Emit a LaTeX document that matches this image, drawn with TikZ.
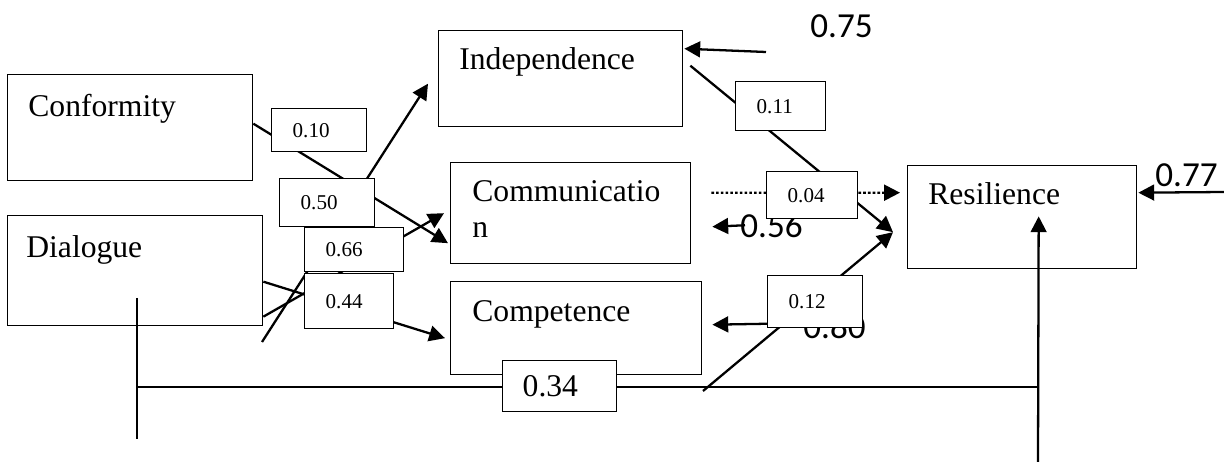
\documentclass[tikz,border=0pt]{standalone}
\usepackage{fontspec}
\setmainfont{Liberation Serif}
\newfontfamily\calibri{Carlito}
\usetikzlibrary{arrows.meta}
\usetikzlibrary{calc}
\usetikzlibrary{positioning}

\begin{document}
\begin{tikzpicture}
			[
				x = 0.02cm, y = -0.02cm,
				box/.style = {rectangle, draw = black, line width = 0.8pt, fill = white, anchor = north west, inner sep = 0pt},
				lbl/.style = {anchor = base west, inner sep = 0pt, font = \fontsize{18}{20.5}\selectfont},
				coef/.style = {box, align = left, inner xsep = 0.42cm, inner ysep = 0pt, font = \fontsize{12}{14}\selectfont},
				err/.style = {anchor = base west, inner sep = 0pt, font = \calibri\fontsize{20}{24}\selectfont},
				path/.style = {line width = 1.3pt},
				arr/.style = {path, -{Triangle[length = 9pt, width = 9pt]}},
			]
			\useasboundingbox (0,0) rectangle (1224,462);
			% constructs
			\node (conf) [box, minimum width = 4.9cm, minimum height = 2.12cm] at (7,74) {};
			\node (dia) [box, minimum width = 5.1cm, minimum height = 2.2cm] at (7,215) {};
			\node (ind) [box, minimum width = 4.88cm, minimum height = 1.92cm] at (438,30) {};
			\node (comm) [box, minimum width = 4.8cm, minimum height = 2.02cm] at (450,162) {};
			\node (comp) [box, minimum width = 5.02cm, minimum height = 1.86cm] at (450,281) {};
			\node (res) [box, minimum width = 4.58cm, minimum height = 2.06cm] at (907,165) {};
			\node (conf-lbl) [lbl] at (28,117) {Conformity};
			\node (dia-lbl) [lbl] at (26,258) {Dialogue};
			\node (ind-lbl) [lbl] at (459,70) {Independence};
			\node (comm-lbl) [lbl, align = left] at (472,238) {Communicatio\\n};
			\node (comp-lbl) [lbl] at (472,322) {Competence};
			\node (res-lbl) [lbl] at (928,205) {Resilience};
			% paths
			\coordinate (indfoot) at (262,342);
			\coordinate (resfoot) at (703,391);
			\draw[arr] ($(conf.east)+(0,-4)$) -- ($(comm.west)+(-2,30)$);
			\draw[arr] ($(dia.east)+(0,46)$) -- ($(comm.west)+(-6,0)$);
			\draw[arr] ($(dia.east)+(0,11)$) -- ($(comp.west)+(-5,10)$);
			\draw[arr] (indfoot) -- ($(ind.west)+(-10,5)$);
			\draw[arr] ($(ind.east)+(7,-13)$) -- ($(res.west)+(-14,15)$);
			\draw[arr] (resfoot) -- ($(res.west)+(-14,15)$);
			\draw[arr, dash pattern = on 1.5pt off 1.2pt] ($(comm.east)+(20,-20.5)$) -- ($(res.west)+(-7,-24.5)$);
			% residuals
			\node (e75) [err] at (810,38) {0.75};
			\node (e56) [err] at (740,238) {0.56};
			\node (e80) [err] at (803,339) {0.80};
			\node (e77) [err] at (1155,187) {0.77};
			\coordinate (e75tail) at (766,52);
			\coordinate (e77tail) at (1224,192);
			\draw[arr] (e75tail) -- ($(ind.east)+(1,-30)$);
			\draw[arr] ($(e56.west)+(5,-1)$) -- ($(comm.east)+(21,13.5)$);
			\draw[arr] ($(e80.west)+(0,-4)$) -- ($(comp.east)+(10,-3.5)$);
			\draw[arr] (e77tail) -- ($(res.east)+(1,-24.5)$);
			% dialogue to resilience
			\coordinate (diatop) at (137,298);
			\coordinate (diafoot) at (137,439);
			\coordinate (diamid) at (137,387);
			\coordinate (resbase) at (1038,462);
			\draw[path] (diatop) -- (diafoot);
			\draw[path] (diamid) -- (diamid -| resbase);
			\draw[arr] (resbase) -- ($(res.south)+(16.5,-53)$);
			% coefficients
			\node (c10) [coef, text width = 1.06cm, minimum height = 0.86cm] at (271,108) {0.10};
			\node (c50) [coef, text width = 1.06cm, minimum height = 0.96cm] at (279,178) {0.50};
			\node (c66) [coef, text width = 1.14cm, minimum height = 0.88cm] at (304,227) {0.66};
			\node (c44) [coef, text width = 0.94cm, minimum height = 1.1cm] at (304,273) {0.44};
			\node (c11) [coef, text width = 0.96cm, minimum height = 0.98cm] at (735,81) {0.11};
			\node (c04) [coef, text width = 0.98cm, minimum height = 0.94cm] at (766,171) {0.04};
			\node (c12) [coef, text width = 1.06cm, minimum height = 1.04cm] at (767,275) {0.12};
			\node (c34) [coef, inner xsep = 0.4cm, text width = 1.48cm, minimum height = 1.02cm, font = \fontsize{18}{20}\selectfont] at (502,360) {0.34};
		\end{tikzpicture}
\end{document}
